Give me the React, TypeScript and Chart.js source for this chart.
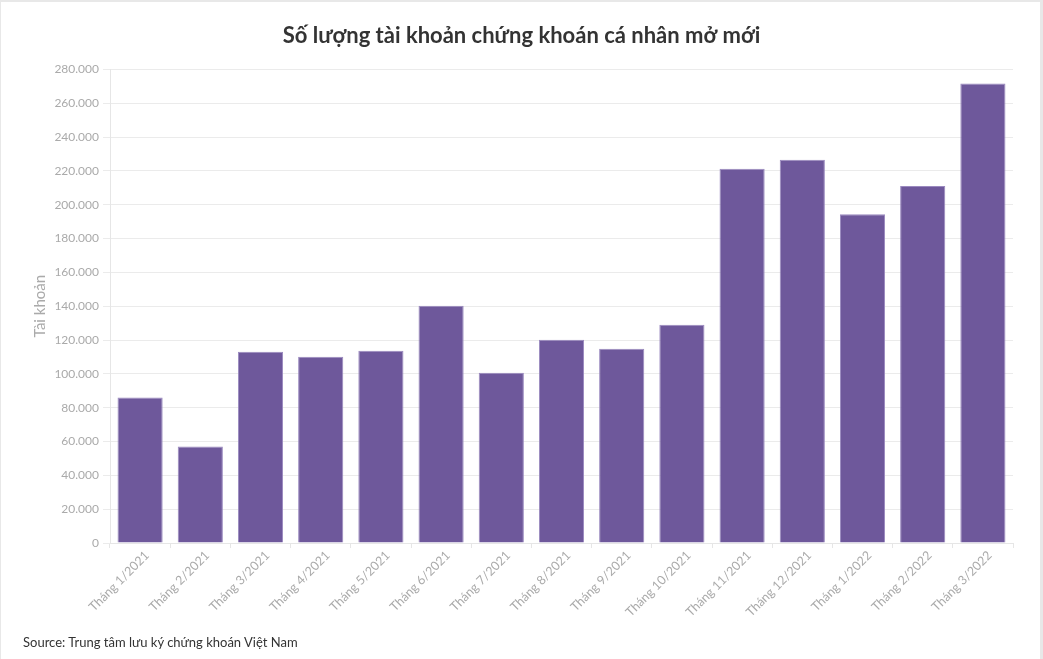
import React, { useEffect, useRef } from "react";
import { Chart, registerables } from "chart.js";

Chart.register(...registerables);

const chartTitle = "Số lượng tài khoản chứng khoán cá nhân mở mới";
const yAxisTitle = "Tài khoản";
const sourceText = "Source: Trung tâm lưu ký chứng khoán Việt Nam";

const categories = [
  "Tháng 1/2021",
  "Tháng 2/2021",
  "Tháng 3/2021",
  "Tháng 4/2021",
  "Tháng 5/2021",
  "Tháng 6/2021",
  "Tháng 7/2021",
  "Tháng 8/2021",
  "Tháng 9/2021",
  "Tháng 10/2021",
  "Tháng 11/2021",
  "Tháng 12/2021",
  "Tháng 1/2022",
  "Tháng 2/2022",
  "Tháng 3/2022",
];

const accounts = [
  86000, 57000, 113000, 110100, 113700, 140300, 100600, 120200, 114900,
  129100, 221200, 226600, 194400, 211100, 271700,
];

const yMin = 0;
const yMax = 280000;
const yStep = 20000;

const FONT = "Lato, 'Noto Sans', sans-serif";

function fmt(v: number) {
  return String(Math.round(v)).replace(/\B(?=(\d{3})+(?!\d))/g, ".");
}

export default function App() {
  const ref = useRef<HTMLCanvasElement | null>(null);

  useEffect(() => {
    document.body.style.margin = "0";
    document.body.style.background = "#e8e8e8";
    const canvas = ref.current;
    if (!canvas) return;
    const chart = new Chart(canvas, {
      type: "bar",
      data: {
        labels: categories,
        datasets: [
          {
            label: yAxisTitle,
            data: accounts,
            backgroundColor: "#6e589b",
            borderColor: "#9a89bf",
            borderWidth: 1,
            categoryPercentage: 1,
            barPercentage: 0.75,
          },
        ],
      },
      options: {
        animation: false,
        responsive: false,
        maintainAspectRatio: false,
        layout: { padding: { left: 30, right: 30, top: 0, bottom: 40 } },
        plugins: {
          legend: { display: false },
          tooltip: { enabled: false },
          title: {
            display: true,
            text: chartTitle,
            color: "#333333",
            font: { family: FONT, size: 22, weight: "bold" },
            padding: { top: 23, bottom: 20 },
          },
        },
        scales: {
          x: {
            grid: {
              drawOnChartArea: false,
              drawTicks: true,
              tickLength: 5,
              color: "#e6e6e6",
            },
            border: { display: true, color: "#e6e6e6" },
            ticks: {
              color: "#aaaaaa",
              font: { family: FONT, size: 12.5 },
              minRotation: 45,
              maxRotation: 45,
              autoSkip: false,
              padding: 0,
              labelOffset: 7,
            },
            afterFit: (s: any) => {
              s.height = 76;
            },
          },
          y: {
            min: yMin,
            max: yMax,
            grid: { color: "#ebebeb", tickLength: 7, drawTicks: true },
            border: { display: true, color: "#e6e6e6" },
            ticks: {
              stepSize: yStep,
              color: "#aaaaaa",
              font: { family: FONT, size: 12 },
              padding: 4,
              callback: (v: any) => fmt(Number(v)),
            },
            title: {
              display: true,
              text: yAxisTitle,
              color: "#aaaaaa",
              font: { family: FONT, size: 15 },
              padding: { top: 1, bottom: 0 },
            },
            afterFit: (s: any) => {
              s.width = 80;
            },
          },
        },
      },
    });
    return () => chart.destroy();
  }, []);

  return (
    <div
      style={{
        position: "fixed",
        left: 1,
        top: 2,
        width: 1039,
        height: 657,
        background: "#ffffff",
        overflow: "hidden",
      }}
    >
      <canvas ref={ref} width={1043} height={659} style={{ position: "absolute", left: -1, top: -2 }} />
      <div
        style={{
          position: "absolute",
          left: 22,
          top: 632,
          fontFamily: FONT,
          fontSize: 13,
          color: "#333333",
          whiteSpace: "nowrap",
        }}
      >
        {sourceText}
      </div>
    </div>
  );
}
